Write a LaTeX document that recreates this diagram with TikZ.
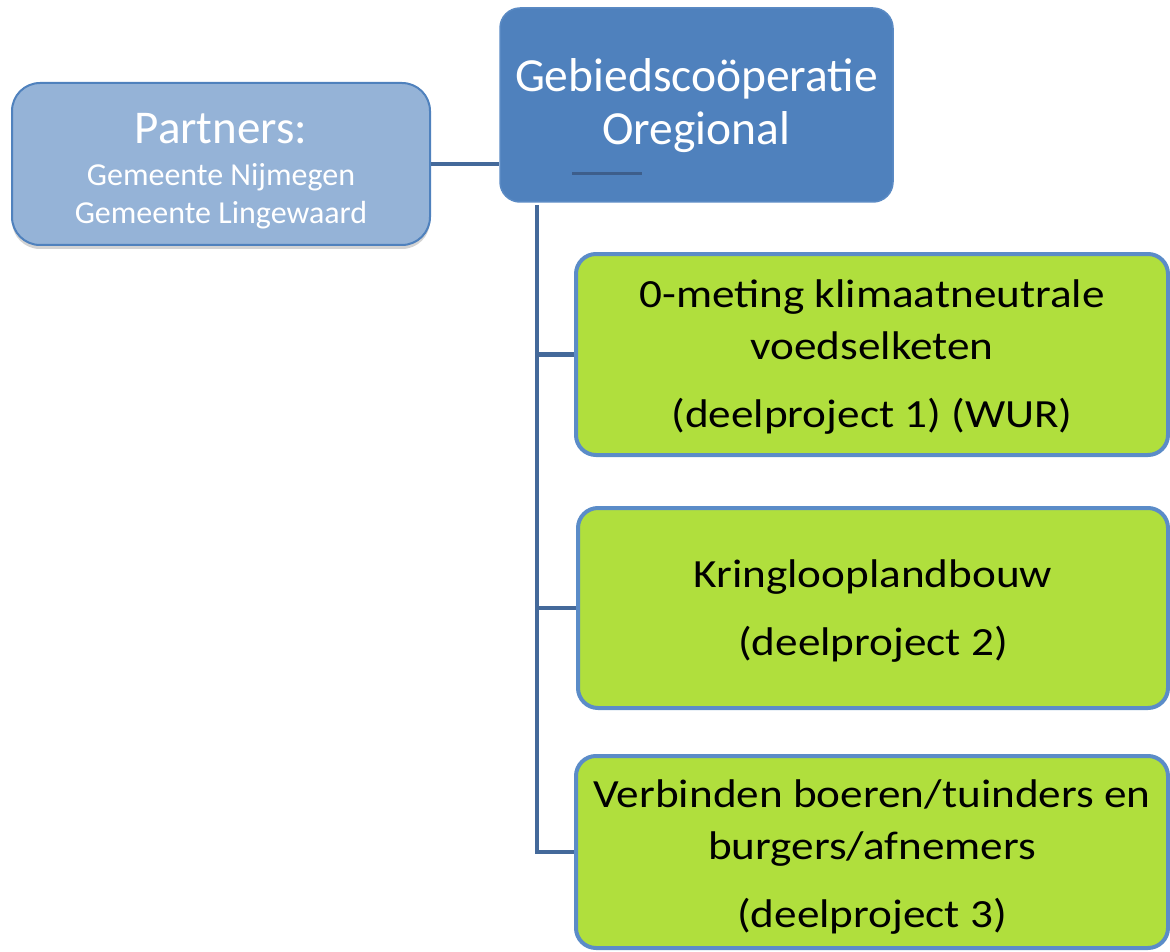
\documentclass[tikz,border=0pt]{standalone}
\usepackage{fontspec}
\setmainfont{Carlito}
\newfontfamily\actfont{Carlito}[FakeStretch=1.13]
\usepackage{xcolor}
\usetikzlibrary{positioning,shadows}

\definecolor{coopblue}{HTML}{4F81BD}
\definecolor{coopedge}{HTML}{5A8AC4}
\definecolor{partnerblue}{HTML}{95B3D7}
\definecolor{linkblue}{HTML}{44699A}
\definecolor{actgreen}{HTML}{B0DF3D}
\definecolor{actedge}{HTML}{5B8CC8}

\newcommand{\topstrut}[1]{\rule{0pt}{#1}}

\begin{document}
\begin{tikzpicture}
            [x=1pt,y=-1pt,
             box/.style={draw, align=center, inner sep=0pt},
             coopbox/.style={box, fill=coopblue, draw=coopedge, line width=1.5pt, rounded corners=20pt, text=white,
                             font=\fontsize{47.5}{53}\selectfont},
             partnerbox/.style={box, fill=partnerblue, draw=coopblue, line width=2pt, rounded corners=28pt, text=white,
                                font=\fontsize{32}{38}\selectfont,
                                drop shadow={opacity=.35, shadow xshift=0pt, shadow yshift=-4pt}},
             actbox/.style={box, fill=actgreen, draw=actedge, line width=4pt, rounded corners=20pt, text=black,
                            font=\actfont\fontsize{40}{52}\selectfont},
             link/.style={draw=linkblue, line width=4.5pt}]
            \useasboundingbox (0,0) rectangle (1170,952);

            \node[partnerbox, minimum width=418pt, minimum height=162pt] (partners) at (221,164)
                {{\fontsize{47}{47}\selectfont\topstrut{44pt}Partners:}\\[4pt]
                 Gemeente Nijmegen\\Gemeente Lingewaard};
            \node[coopbox, minimum width=393pt, minimum height=194pt] (coop) at (696.5,105)
                {\topstrut{35pt}Gebiedscoöperatie\\Oregional};
            \node[actbox, minimum width=592pt, minimum height=201pt] (act1) at (872,354.5)
                {\topstrut{32pt}0-meting klimaatneutrale\\voedselketen\\[16pt](deelproject 1) (WUR)};
            \node[actbox, minimum width=590pt, minimum height=200pt] (act2) at (873,608)
                {\topstrut{33pt}Kringlooplandbouw\\[16pt](deelproject 2)};
            \node[actbox, minimum width=592pt, minimum height=192pt] (act3) at (872,852)
                {\topstrut{38pt}Verbinden boeren/tuinders en\\burgers/afnemers\\[16pt](deelproject 3)};

            % stray mark under the title
            \coordinate (markl) at (572,174);
            \coordinate (markr) at (642,174);
            \draw[draw=linkblue!90!black, line width=3pt] (markl) -- (markr);

            \coordinate (trunk) at (537,205);
            \draw[link] (partners.east) -- (partners.east -| coop.west);
            \draw[link] (trunk) |- (act3.west);
            \foreach \act in {act1, act2}
            \draw[link] (trunk |- \act.west) -- (\act.west);
          \end{tikzpicture}
\end{document}
